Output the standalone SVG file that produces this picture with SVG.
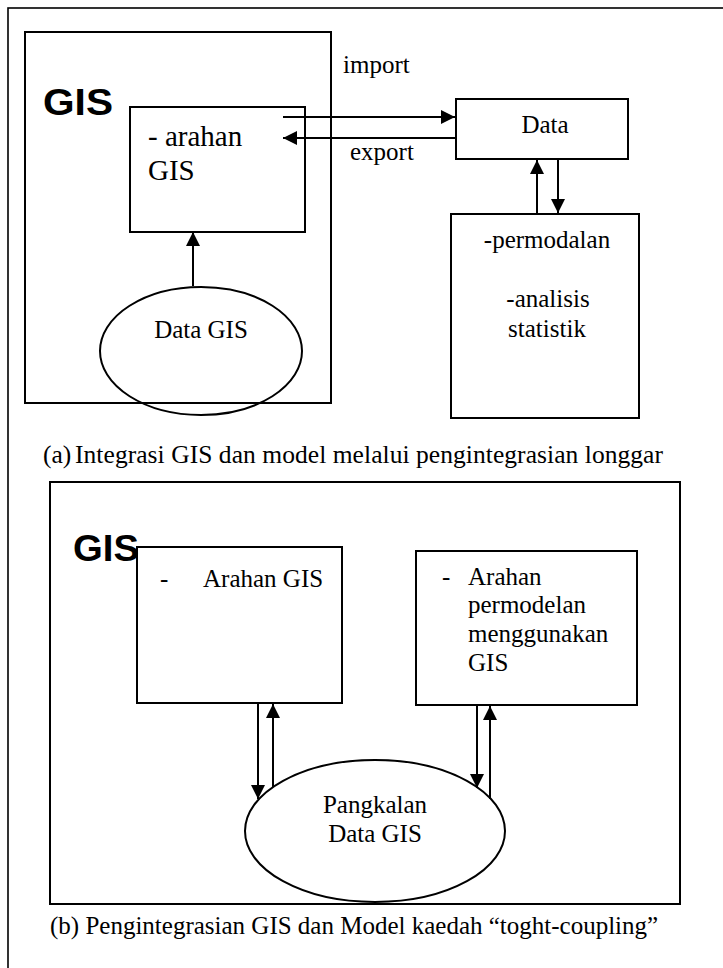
<svg xmlns="http://www.w3.org/2000/svg" width="723" height="968" viewBox="0 0 723 968">
  <style>
    .box { fill: none; stroke: #000; stroke-width: 2; }
    .frame { fill: none; stroke: #000; stroke-width: 1.6; }
    .wire { fill: none; stroke: #000; stroke-width: 2; }
    .t { font-family: "Liberation Serif", "Times New Roman", serif; font-size: 25px; fill: #000; }
    .big { font-family: "Liberation Sans", Arial, sans-serif; font-weight: bold; font-size: 37px; fill: #000; }
  </style>
  <defs>
    <marker id="head" viewBox="0 0 14 14" refX="14" refY="7" markerWidth="14" markerHeight="14" markerUnits="userSpaceOnUse" orient="auto">
      <path d="M0,0 L14,7 L0,14 Z" fill="#000"/>
    </marker>
  </defs>
  <rect width="723" height="968" fill="#fff"/>

  <!-- page frame -->
  <rect class="frame" x="8" y="8" width="730" height="980"/>

  <!-- (a) loose coupling -->
  <g id="gis-a">
    <rect class="box" x="25" y="32" width="306" height="371"/>
    <text class="big" x="43" y="115" textLength="70" lengthAdjust="spacingAndGlyphs">GIS</text>
  </g>
  <g id="arahan-a">
    <rect class="box" x="130" y="107" width="175" height="125"/>
    <text class="t" x="148" y="146" style="font-size:29px">- arahan</text>
    <text class="t" x="148" y="180" style="font-size:29px">GIS</text>
  </g>
  <g id="datagis-a">
    <ellipse class="box" cx="201" cy="351" rx="101" ry="64" fill="#fff"/>
    <text class="t" x="201" y="338" text-anchor="middle">Data GIS</text>
  </g>
  <g id="data-a">
    <rect class="box" x="456" y="99" width="172" height="60"/>
    <text class="t" x="545" y="133" text-anchor="middle">Data</text>
  </g>
  <g id="model-a">
    <rect class="box" x="451" y="214" width="188" height="204"/>
    <text class="t" x="547" y="248" text-anchor="middle">-permodalan</text>
    <text class="t" x="548" y="307" text-anchor="middle">-analisis</text>
    <text class="t" x="547" y="337" text-anchor="middle">statistik</text>
  </g>

  <g id="connectors">
    <line class="wire" x1="283" y1="117" x2="455" y2="117" marker-end="url(#head)"/>
    <line class="wire" x1="456" y1="138" x2="283" y2="138" marker-end="url(#head)"/>
    <line class="wire" x1="193" y1="286" x2="193" y2="232" marker-end="url(#head)"/>
    <line class="wire" x1="537" y1="213" x2="537" y2="160" marker-end="url(#head)"/>
    <line class="wire" x1="558" y1="160" x2="558" y2="213" marker-end="url(#head)"/>
    <line class="wire" x1="258" y1="703" x2="258" y2="799" marker-end="url(#head)"/>
    <line class="wire" x1="273" y1="787" x2="273" y2="704" marker-end="url(#head)"/>
    <line class="wire" x1="477" y1="705" x2="477" y2="788" marker-end="url(#head)"/>
    <line class="wire" x1="490" y1="799" x2="490" y2="706" marker-end="url(#head)"/>
  </g>

  <g id="labels-a">
    <text class="t" x="343" y="73">import</text>
    <text class="t" x="350" y="160">export</text>
  </g>

  <g id="caption-a">
    <text class="t" x="43" y="463" style="font-size:25.5px">(a)</text>
    <text class="t" x="75" y="463" style="font-size:25.5px" textLength="588" lengthAdjust="spacing">Integrasi GIS dan model melalui pengintegrasian longgar</text>
  </g>

  <!-- (b) tight coupling -->
  <g id="gis-b">
    <rect class="box" x="50" y="482" width="630" height="422"/>
    <text class="big" x="73" y="561" textLength="66" lengthAdjust="spacingAndGlyphs">GIS</text>
  </g>
  <g id="arahan-b">
    <rect class="box" x="137" y="547" width="205" height="156"/>
    <text class="t" x="160" y="587">-</text>
    <text class="t" x="203" y="587">Arahan GIS</text>
  </g>
  <g id="model-b">
    <rect class="box" x="416" y="551" width="221" height="154"/>
    <text class="t" x="442" y="585">-</text>
    <text class="t" x="468" y="585">Arahan</text>
    <text class="t" x="468" y="613">permodelan</text>
    <text class="t" x="468" y="642">menggunakan</text>
    <text class="t" x="468" y="671">GIS</text>
  </g>
  <g id="pangkalan-b">
    <ellipse class="box" cx="375" cy="831" rx="130" ry="71" fill="#fff"/>
    <text class="t" x="375" y="813" text-anchor="middle">Pangkalan</text>
    <text class="t" x="375" y="842" text-anchor="middle">Data GIS</text>
  </g>

  <g id="caption-b">
    <text class="t" x="50" y="934">(b) Pengintegrasian GIS dan Model kaedah “toght-coupling”</text>
  </g>
</svg>
